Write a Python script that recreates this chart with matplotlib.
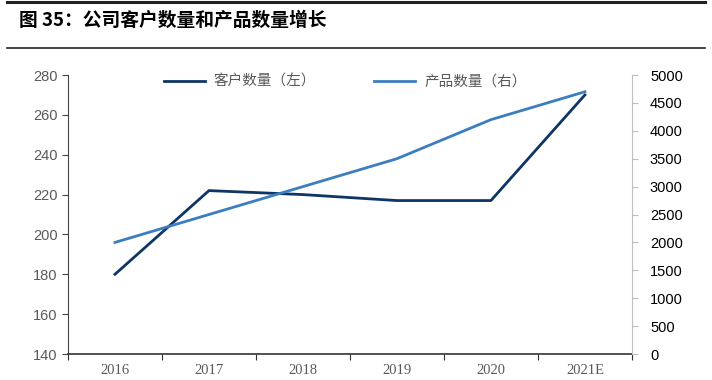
import matplotlib.pyplot as plt
from matplotlib.lines import Line2D

plt.rcParams['font.family'] = ['Noto Sans CJK SC', 'DejaVu Sans']

years = ['2016', '2017', '2018', '2019', '2020', '2021E']
customers = [180, 222, 220, 217, 217, 270]
products = [2000, 2500, 3000, 3500, 4200, 4700]

dark = '#0e3565'
light = '#3b7ec0'
grey = '#595959'

fig = plt.figure(figsize=(7.12, 3.8), dpi=100)
ax = fig.add_axes([0.0955, 0.0684, 0.792, 0.7342])
ax2 = ax.twinx()

x = range(len(years))
ax.plot(x, customers, color=dark, lw=2, label='客户数量（左）')
ax2.plot(x, products, color=light, lw=2, label='产品数量（右）')

ax.set_xlim(-0.5, len(years) - 0.5)
ax.set_ylim(140, 280)
ax.set_yticks(range(140, 281, 20))
ax2.set_ylim(0, 5000)
ax2.set_yticks(range(0, 5001, 500))

# x ticks at category boundaries, labels at centres
ax.set_xticks([i - 0.5 for i in range(len(years) + 1)])
ax.set_xticklabels([])
ax.set_xticks(list(x), minor=True)
ax.set_xticklabels(years, minor=True, family=['Liberation Serif'], fontsize=10.5, color=grey)
ax.tick_params(axis='x', which='minor', length=0, pad=7)
ax.tick_params(axis='x', which='major', length=4, direction='out', color='#333333')

for a in (ax, ax2):
    a.spines['top'].set_visible(False)
ax.spines['right'].set_visible(False)
ax2.spines['left'].set_visible(False)
ax2.spines['bottom'].set_visible(False)
ax.spines['bottom'].set_color('#333333')
ax.spines['bottom'].set_linewidth(1.2)
ax.spines['left'].set_color('#444444')
ax2.spines['right'].set_color('#bfbfbf')

ax.tick_params(axis='y', labelsize=10.5, labelcolor=grey, color='#444444', length=4)
for t in ax.get_yticklabels():
    t.set_family(['Liberation Sans'])
ax2.tick_params(axis='y', labelsize=10.5, labelcolor='#000000', color='#bfbfbf',
                length=4, pad=9)
for t in ax2.get_yticklabels():
    t.set_family(['Liberation Sans'])

handles = [Line2D([], [], color=dark, lw=2), Line2D([], [], color=light, lw=2)]
fig.legend(handles, ['客户数量（左）', '产品数量（右）'], loc='center', ncol=2,
           bbox_to_anchor=(0.485, 0.785), frameon=False, fontsize=10.5,
           handlelength=2.8, handletextpad=0.6, columnspacing=4.0, labelcolor=grey)

# title with rules above and below
fig.text(0.027, 0.945, '图 35：公司客户数量和产品数量增长', fontsize=13.5,
         fontweight='bold', va='center', ha='left')
fig.add_artist(Line2D([0.01, 0.99], [0.995, 0.995], color='#222222', lw=2.2,
                      transform=fig.transFigure))
fig.add_artist(Line2D([0.01, 0.99], [0.875, 0.875], color='#222222', lw=1.2,
                      transform=fig.transFigure))

fig.savefig('out.png', dpi=100)
